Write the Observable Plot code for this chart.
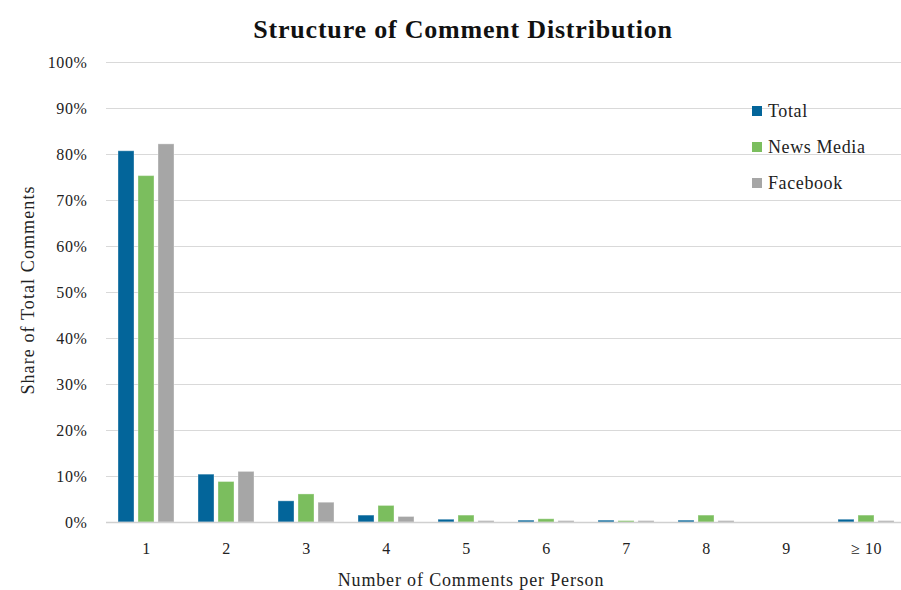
<!DOCTYPE html>
<html>
<head>
<meta charset="utf-8">
<script src="https://cdn.jsdelivr.net/npm/d3@7"></script>
<script src="https://cdn.jsdelivr.net/npm/@observablehq/plot@0.6"></script>
<style>
  html, body { margin: 0; padding: 0; background: #fff; overflow: hidden; }
  #wrap { position: relative; width: 901px; height: 590px; font-family: "Liberation Serif", serif; }
  #title { position: absolute; top: 15px; left: 0; width: 926px; text-align: center; font-weight: bold; font-size: 26px; letter-spacing: 0.8px; color: #111; }
  #chart { position: absolute; top: 50px; left: 0; }
  #legend { position: absolute; left: 752px; top: 93px; font-size: 18px; letter-spacing: 0.6px; color: #222; }
  .item { display: flex; align-items: center; height: 36px; }
  .sw { width: 10px; height: 10px; margin-right: 6px; }
  #ylabel { position: absolute; left: 28px; top: 290px; transform: translate(-50%, -50%) rotate(-90deg); white-space: nowrap; font-size: 18px; letter-spacing: 1.1px; color: #222; }
  #xlabel { position: absolute; left: 471px; top: 580px; transform: translate(-50%, -50%); white-space: nowrap; font-size: 18px; letter-spacing: 0.85px; color: #222; }
</style>
</head>
<body>
<div id="wrap">
  <div id="title">Structure of Comment Distribution</div>
  <div id="chart"></div>
  <div id="ylabel">Share of Total Comments</div>
  <div id="xlabel">Number of Comments per Person</div>
  <div id="legend"></div>
</div>
<script>
const categories = ["1", "2", "3", "4", "5", "6", "7", "8", "9", "≥ 10"];
const seriesNames = ["Total", "News Media", "Facebook"];
const seriesColors = ["#03659A", "#7BBE5E", "#A6A6A6"];
const total    = [80.7, 10.4, 4.6, 1.5, 0.6, 0.4, 0.4, 0.4, 0, 0.6];
const newsMedia = [75.3, 8.8, 6.1, 3.6, 1.5, 0.7, 0.3, 1.5, 0, 1.5];
const facebook = [82.2, 11.0, 4.3, 1.2, 0.3, 0.3, 0.3, 0.3, 0, 0.3];
const yTicks = [0, 10, 20, 30, 40, 50, 60, 70, 80, 90, 100];

const seriesValues = [total, newsMedia, facebook];
const rows = [];
categories.forEach((c, i) => {
  seriesNames.forEach((s, j) => rows.push({category: c, series: s, value: seriesValues[j][i]}));
});

const chart = Plot.plot({
  width: 906,
  height: 540,
  marginLeft: 106,
  marginRight: 0,
  marginTop: 12,
  marginBottom: 68,
  style: {fontFamily: "Liberation Serif, serif", fontSize: "16px", letterSpacing: "0.6px", color: "#222", maxWidth: "none", overflow: "visible"},
  fx: {domain: categories, padding: 0, label: null, tickSize: 0, tickPadding: 20},
  x: {domain: seriesNames, axis: null, paddingInner: 0.21, paddingOuter: 0.51},
  y: {domain: [0, 100], ticks: yTicks, tickFormat: d => d + "%", tickSize: 0, tickPadding: 19, label: null},
  color: {domain: seriesNames, range: seriesColors},
  marks: [
    Plot.ruleY(yTicks.slice(1), {stroke: "#d9d9d9", strokeWidth: 1}),
    Plot.barY(rows, {fx: "category", x: "series", y: "value", fill: "series", stroke: "#ffffff", strokeOpacity: 0.35, strokeWidth: 1}),
    Plot.ruleY([0], {stroke: "#d0d0d0", strokeWidth: 1.5})
  ]
});
document.getElementById("chart").appendChild(chart);

const legend = document.getElementById("legend");
seriesNames.forEach((s, i) => {
  const item = document.createElement("div");
  item.className = "item";
  const sw = document.createElement("div");
  sw.className = "sw";
  sw.style.background = seriesColors[i];
  const t = document.createElement("span");
  t.textContent = s;
  item.appendChild(sw);
  item.appendChild(t);
  legend.appendChild(item);
});
</script>
</body>
</html>
